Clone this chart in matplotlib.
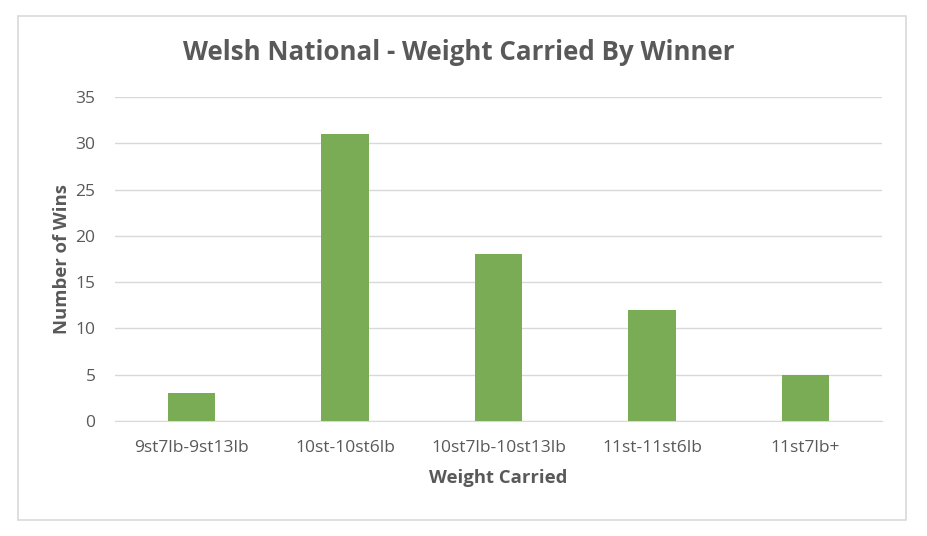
import matplotlib
matplotlib.use("Agg")
import matplotlib.pyplot as plt
from matplotlib.patches import Rectangle

categories = ["9st7lb-9st13lb", "10st-10st6lb", "10st7lb-10st13lb", "11st-11st6lb", "11st7lb+"]
wins = [3, 31, 18, 12, 5]
yticks = [0, 5, 10, 15, 20, 25, 30, 35]

plt.rcParams['font.family'] = ['Open Sans', 'DejaVu Sans']
gray = "#595959"

fig = plt.figure(figsize=(9.28, 5.36), dpi=100)
fig.patches.append(Rectangle((18/928, 1-520/536), (906-18)/928, (520-16)/536,
                             transform=fig.transFigure, fill=False, edgecolor="#d9d9d9", lw=1.2))
ax = fig.add_axes([115/928, 1-421/536, (882-115)/928, (421-97)/536])
x = range(len(categories))
ax.bar(x, wins, width=0.31, color="#7aab55", zorder=3)
ax.set_xlim(-0.5, len(categories)-0.5)
ax.set_ylim(0, 35)
ax.set_yticks(yticks)
ax.set_xticks(list(x))
ax.set_xticklabels(categories)
ax.grid(axis='y', color="#d9d9d9", lw=1, zorder=0)
for s in ["top", "right", "left"]:
    ax.spines[s].set_visible(False)
ax.spines["bottom"].set_color("#d9d9d9")
ax.tick_params(axis='both', length=0, labelsize=12.5, labelcolor=gray)
ax.tick_params(axis='x', pad=14)
ax.tick_params(axis='y', pad=14)
ax.set_xlabel("Weight Carried", fontsize=13.3, fontweight='bold', color=gray, labelpad=9)
ax.set_ylabel("Number of Wins", fontsize=13.3, fontweight='bold', color=gray, labelpad=3)
fig.text(459/928, 1-52/536, "Welsh National - Weight Carried By Winner", ha='center', va='center',
         fontsize=18.6, fontweight='bold', color=gray)
fig.savefig("out.png", dpi=100)
